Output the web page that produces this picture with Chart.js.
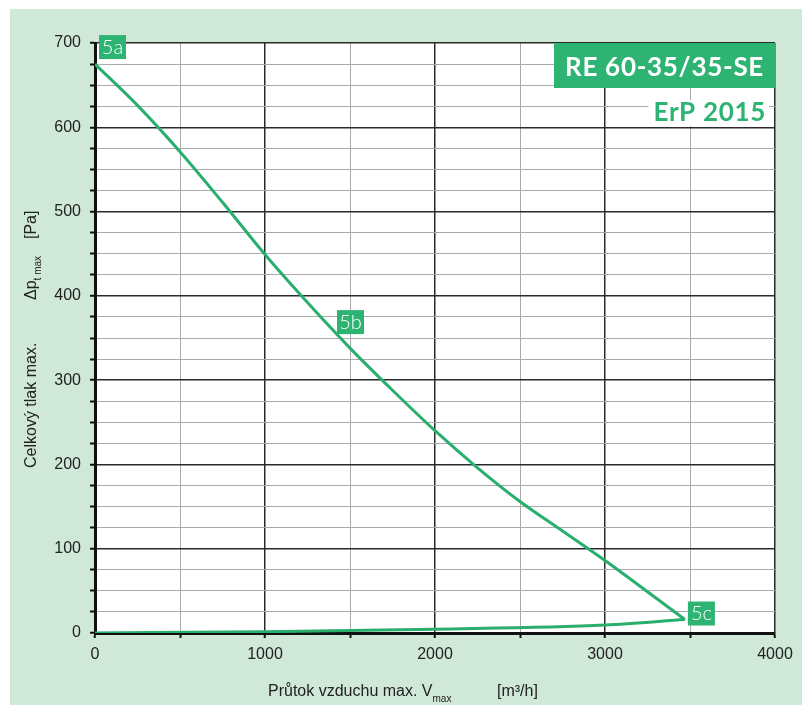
<!DOCTYPE html>
<html>
<head>
<meta charset="utf-8">
<script src="https://cdn.jsdelivr.net/npm/chart.js@4"></script>
<style>
    html, body { margin: 0; padding: 0; background: #fff; }
    #wrap { position: relative; width: 802px; height: 705px; }
    #bg { position: absolute; left: 10px; top: 9px; right: 0; bottom: 0; background: #cfe8d8; }
    canvas { position: absolute; left: 0; top: 0; }
</style>
</head>
<body>
<div id="wrap">
    <div id="bg"></div>
    <canvas id="fanChart" width="802" height="705"></canvas>
</div>
<script>
// Curve data
const flowUpper = [0, 250, 500, 750, 1000, 1250, 1500, 1750, 2000, 2250, 2500, 2750, 3000, 3250, 3470];
const pressUpper = [675, 626, 571, 511, 449, 392, 338, 288, 240, 196, 156, 121, 86, 49, 16];
const flowLower = [0, 1000, 2000, 3000, 3470];
const pressLower = [0, 1.5, 4.5, 9.5, 16];

// Point markers
const markerText = ['5a', '5b', '5c'];
const markerFlow = [0, 1500, 3470];
const markerPress = [675, 338, 16];

const titleText = 'RE 60-35/35-SE';
const subtitleText = 'ErP 2015';

const GREEN = '#2db472';
const AXIS_FONT = '"Liberation Sans", Arial, sans-serif';

const toPoints = (xs, ys) => xs.map((x, i) => ({ x: x, y: ys[i] }));

const plotBackground = {
    id: 'plotBackground',
    beforeDraw(chart) {
        const a = chart.chartArea;
        const ctx = chart.ctx;
        ctx.save();
        ctx.fillStyle = '#fff';
        ctx.fillRect(a.left, a.top, a.right - a.left, a.bottom - a.top);
        ctx.restore();
    }
};

const overlay = {
    id: 'overlay',
    afterDraw(chart) {
        const ctx = chart.ctx;
        const xs = chart.scales.x;
        const ys = chart.scales.y;
        const a = chart.chartArea;
        ctx.save();

        // marker boxes
        const offsets = [[4, -29], [-13, -38], [3, -18]];
        markerText.forEach((t, i) => {
            const px = xs.getPixelForValue(markerFlow[i]) + offsets[i][0];
            const py = ys.getPixelForValue(markerPress[i]) + offsets[i][1];
            ctx.fillStyle = GREEN;
            ctx.fillRect(px, py, 27, 24);
            ctx.fillStyle = '#fff';
            ctx.font = '300 20px Lato, "Open Sans", sans-serif';
            ctx.textAlign = 'center';
            ctx.textBaseline = 'middle';
            ctx.fillText(t, px + 13.5, py + 12.5);
        });

        // title box
        ctx.fillStyle = GREEN;
        ctx.fillRect(a.right - 221, a.top, 221, 45);
        ctx.fillStyle = '#fff';
        ctx.font = 'bold 26px Lato, "Open Sans", sans-serif';
        ctx.letterSpacing = '0.7px';
        ctx.textAlign = 'right';
        ctx.textBaseline = 'alphabetic';
        ctx.fillText(titleText, a.right - 11, a.top + 33);

        const w = ctx.measureText(subtitleText).width;
        ctx.fillStyle = '#fff';
        ctx.fillRect(a.right - 10 - w - 4, a.top + 57, w + 8, 26);
        ctx.fillStyle = GREEN;
        ctx.fillText(subtitleText, a.right - 9, a.top + 78);
        ctx.letterSpacing = '0px';

        // x axis title
        ctx.fillStyle = '#222';
        ctx.textAlign = 'left';
        ctx.font = '16px ' + AXIS_FONT;
        let x = 268;
        const part1 = 'Průtok vzduchu max. V';
        ctx.fillText(part1, x, 696);
        x += ctx.measureText(part1).width;
        ctx.font = '10px ' + AXIS_FONT;
        ctx.fillText('max', x, 702);
        ctx.font = '16px ' + AXIS_FONT;
        ctx.fillText('[m³/h]', 497, 696);

        // y axis title (rotated)
        ctx.translate(36, 468);
        ctx.rotate(-Math.PI / 2);
        ctx.font = '16px ' + AXIS_FONT;
        ctx.fillText('Celkový tlak max.', 0, 0);
        ctx.fillText('Δp', 168, 0);
        const dw = ctx.measureText('Δp').width;
        ctx.font = '10px ' + AXIS_FONT;
        ctx.fillText('t max', 168 + dw, 5);
        ctx.font = '16px ' + AXIS_FONT;
        ctx.fillText('[Pa]', 229, 0);

        ctx.restore();
    }
};

const isMajorX = c => c.tick && c.tick.value % 1000 === 0;
const isMajorY = c => c.tick && c.tick.value % 100 === 0;

const fanChart = new Chart(document.getElementById('fanChart').getContext('2d'), {
    type: 'scatter',
    data: {
        datasets: [
            {
                label: 'upper',
                data: toPoints(flowUpper, pressUpper),
                showLine: true,
                borderColor: '#2aae6e',
                borderWidth: 3,
                pointRadius: 0,
                cubicInterpolationMode: 'monotone'
            },
            {
                label: 'lower',
                data: toPoints(flowLower, pressLower),
                showLine: true,
                borderColor: '#2aae6e',
                borderWidth: 3,
                pointRadius: 0,
                cubicInterpolationMode: 'monotone'
            }
        ]
    },
    options: {
        responsive: false,
        animation: false,
        layout: { padding: { top: 43, right: 27, left: 0, bottom: 0 } },
        plugins: {
            legend: { display: false },
            tooltip: { enabled: false }
        },
        scales: {
            x: {
                type: 'linear',
                min: 0,
                max: 4000,
                afterFit: s => { s.height = 72; },
                ticks: {
                    stepSize: 500,
                    autoSkip: false,
                    maxRotation: 0,
                    padding: 7,
                    color: '#222',
                    font: { family: AXIS_FONT, size: 16 },
                    callback: v => (v % 1000 === 0 ? v : '')
                },
                grid: {
                    color: c => (isMajorX(c) ? '#2a2a2a' : '#aaaaaa'),
                    lineWidth: c => (isMajorX(c) ? 1.5 : 1),
                    tickLength: 5,
                    tickColor: '#111',
                    tickWidth: 2
                },
                border: { color: '#111', width: 3 }
            },
            y: {
                min: 0,
                max: 700,
                afterFit: s => { s.width = 95; },
                ticks: {
                    stepSize: 25,
                    autoSkip: false,
                    padding: 9,
                    color: '#222',
                    font: { family: AXIS_FONT, size: 16 },
                    callback: v => (v % 100 === 0 ? v : '')
                },
                grid: {
                    color: c => (isMajorY(c) ? '#2a2a2a' : '#aaaaaa'),
                    lineWidth: c => (isMajorY(c) ? 1.5 : 1),
                    tickLength: 5,
                    tickColor: '#111',
                    tickWidth: 2
                },
                border: { color: '#111', width: 3 }
            }
        }
    },
    plugins: [plotBackground, overlay]
});
</script>
</body>
</html>
